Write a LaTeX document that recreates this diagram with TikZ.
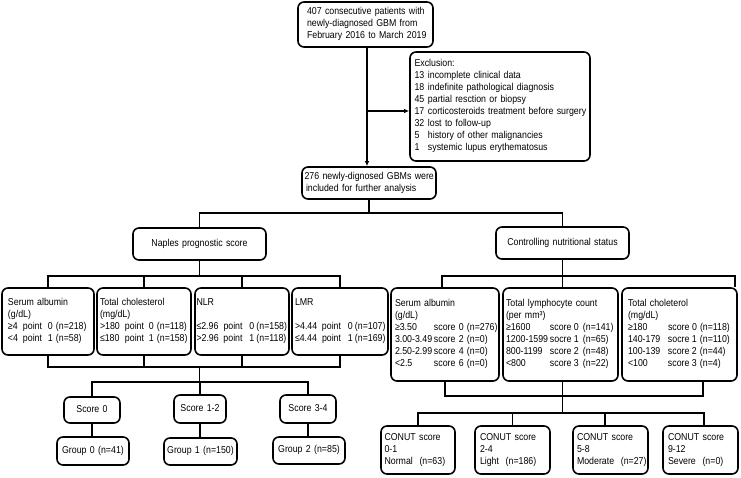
\documentclass[tikz,border=0pt]{standalone}
\usepackage{fontspec}
\setmainfont{Liberation Sans}[FakeStretch=0.88]
\usetikzlibrary{arrows.meta}
\newcommand\bx[8][]{%
 \pgfmathsetmacro\mybw{#5-#3}%
 \pgfmathsetmacro\mybh{#6-#4}%
 \pgfmathsetmacro\mytw{#5-#3-2*#7}%
 \pgfmathsetmacro\mycx{(#3+#5)/2}%
 \pgfmathsetmacro\mycy{(#4+#6)/2}%
 \node[box, minimum width=\mybw pt, minimum height=\mybh pt, text width=\mytw pt, inner xsep=#7pt, #1] (#2) at (\mycx,\mycy) {\begin{tabular}{@{}l@{}}#8\end{tabular}};}
\newcommand\rw[7]{\makebox[#1pt][l]{#4}\makebox[#2pt][l]{#5}\makebox[#3pt][l]{#6}#7}
\newcommand\ex[2]{\makebox[13.5pt][l]{#1}#2}
\tikzset{
 box/.style={draw, line width=1.6pt, rounded corners=6pt, inner ysep=0pt, font={\fontsize{10}{12}\selectfont}},
 conn/.style={line width=1.8pt},
 arr/.style={line width=1.2pt, -{Latex[length=5pt,width=4.5pt]}}
}
\begin{document}
\begin{tikzpicture}[x=1pt,y=-1pt]
\useasboundingbox (0,0) rectangle (741,477);
% top part
\bx{start}{298}{2}{433}{47}{9}{407 consecutive patients with\\newly-diagnosed GBM from\\February 2016 to March 2019}
\bx{excl}{410}{52}{590}{161}{4.5}{Exclusion:\\
\ex{13}{incomplete clinical data}\\
\ex{18}{indefinite pathological diagnosis}\\
\ex{45}{partial resction or biopsy}\\
\ex{17}{corticosteroids treatment before surgery}\\
\ex{32}{lost to follow-up}\\
\ex{5}{history of other malignancies}\\
\ex{1}{systemic lupus erythematosus}}
\bx{inc}{302}{167}{436}{199}{2.5}{276 newly-dignosed GBMs were\\\hspace{1.5pt}included for further analysis}
\bx[align=center]{naples}{133}{228}{266}{260}{0}{Naples prognostic score}
\bx[align=center]{cns}{496}{227}{629}{259}{0}{Controlling nutritional status}
% left row
\bx{sa1}{2}{288}{94}{355}{6}{Serum albumin\\(g/dL)\\\rw{15}{25}{8}{≥4}{point}{0}{(n=218)}\\\rw{15}{25}{8}{<4}{point}{1}{(n=58)}}
\bx{tc1}{97}{288}{191}{355}{3}{Total cholesterol\\(mg/dL)\\\rw{25}{24}{8}{>180}{point}{0}{(n=118)}\\\rw{25}{24}{8}{≤180}{point}{1}{(n=158)}}
\bx{nlr}{195}{288}{289}{355}{1.5}{NLR\\ {}\\\rw{27}{26}{7}{≤2.96}{point}{0}{(n=158)}\\\rw{27}{26}{7}{>2.96}{point}{1}{(n=118)}}
\bx{lmr}{292}{288}{388}{355}{3}{LMR\\ {}\\\rw{27}{26}{7}{>4.44}{point}{0}{(n=107)}\\\rw{27}{26}{7}{≤4.44}{point}{1}{(n=169)}}
% right row
\bx{sa2}{391}{288}{499}{381}{4}{Serum albumin\\(g/dL)\\
\rw{39}{25}{8}{≥3.50}{score}{0}{(n=276)}\\
\rw{39}{25}{8}{3.00-3.49}{score}{2}{(n=0)}\\
\rw{39}{25}{8}{2.50-2.99}{score}{4}{(n=0)}\\
\rw{39}{25}{8}{<2.5}{score}{6}{(n=0)}}
\bx{tlc}{503}{288}{618}{381}{3}{Total lymphocyte count\\(per mm³)\\
\rw{44}{24}{9}{≥1600}{score}{0}{(n=141)}\\
\rw{44}{24}{9}{1200-1599}{socre}{1}{(n=65)}\\
\rw{44}{24}{9}{800-1199}{score}{2}{(n=48)}\\
\rw{44}{24}{9}{<800}{score}{3}{(n=22)}}
\bx{tch}{622}{288}{737}{381}{6}{Total choleterol\\(mg/dL)\\
\rw{40}{24}{8}{≥180}{score}{0}{(n=118)}\\
\rw{40}{24}{8}{140-179}{socre}{1}{(n=110)}\\
\rw{40}{24}{8}{100-139}{score}{2}{(n=44)}\\
\rw{40}{24}{8}{<100}{score}{3}{(n=4)}}
% scores / groups
\bx[align=center]{s0}{64}{397}{120}{423}{0}{Score 0}
\bx[align=center]{s12}{174}{395}{226}{423}{0}{Score 1-2}
\bx[align=center]{s34}{280}{395}{336}{423}{0}{Score 3-4}
\bx[align=center]{g0}{57}{437}{129}{465}{0}{Group 0 (n=41)}
\bx[align=center]{g1}{164}{438}{237}{465}{0}{Group 1 (n=150)}
\bx[align=center]{g2}{273}{437}{345}{464}{0}{Group 2 (n=85)}
% CONUT
\bx{c1}{381}{426}{455}{474}{3.5}{CONUT score\\0-1\\Normal\ \ (n=63)}
\bx{c2}{475}{426}{550}{474}{5}{CONUT score\\2-4\\Light\ \ (n=186)}
\bx{c3}{573}{426}{648}{474}{4}{CONUT score\\5-8\\Moderate\ \ (n=27)}
\bx{c4}{663}{426}{738}{474}{5}{CONUT score\\9-12\\Severe\ \ (n=0)}
% arrows
\coordinate (trunk) at (367,0);
\coordinate (exa) at (367,111);
\draw[arr] (start.south -| trunk) -- (inc.north -| trunk);
\draw[arr] (exa) -- (exa -| excl.west);
% split
\coordinate (j1) at (0,213);
\draw[conn] (inc.south) -- (inc.south |- j1);
\draw[conn] (naples.north) -- (naples.north |- j1) -- (cns.north |- j1) -- (cns.north);
% naples branches
\coordinate (j2) at (0,276);
\draw[conn] (naples.south) -- (naples.south |- j2);
\draw[conn] (sa1.north) -- (sa1.north |- j2) -- (lmr.north |- j2) -- (lmr.north);
\draw[conn] (tc1.north) -- (tc1.north |- j2);
\draw[conn] (nlr.north) -- (nlr.north |- j2);
% conut branches
\coordinate (r1) at (442,276);
\coordinate (r3) at (735,276);
\draw[conn] (cns.south) -- (cns.south |- j2);
\draw[conn] (sa2.north -| r1) -- (r1) -- (r3) -- (tch.north -| r3);
\draw[conn] (cns.south |- j2) -- (cns.south |- tlc.north);
% naples merge
\coordinate (j3) at (0,367);
\coordinate (j4) at (0,382);
\draw[conn] (sa1.south) -- (sa1.south |- j3) -- (lmr.south |- j3) -- (lmr.south);
\draw[conn] (tc1.south) -- (tc1.south |- j3);
\draw[conn] (nlr.south) -- (nlr.south |- j3);
\draw[conn] (naples.south |- j3) -- (naples.south |- j4);
\draw[conn] (s0.north) -- (s0.north |- j4) -- (s34.north |- j4) -- (s34.north);
\draw[conn] (s12.north) -- (s12.north |- j4);
\draw[conn] (s0.south) -- (s0.south |- g0.north);
\draw[conn] (s12.south) -- (s12.south |- g1.north);
\draw[conn] (s34.south) -- (s34.south |- g2.north);
% conut merge
\coordinate (k1) at (0,396);
\coordinate (k2) at (0,413);
\coordinate (b3) at (703,396);
\coordinate (q3) at (605,413);
\coordinate (q4) at (704,413);
\draw[conn] (sa2.south) -- (sa2.south |- k1) -- (b3) -- (tch.south -| b3);
\draw[conn] (cns.south |- tlc.south) -- (cns.south |- k2);
\draw[conn] (c1.north) -- (c1.north |- k2) -- (q4) -- (c4.north -| q4);
\draw[conn] (c2.north) -- (c2.north |- k2);
\draw[conn] (q3) -- (c3.north -| q3);
\end{tikzpicture}
\end{document}
